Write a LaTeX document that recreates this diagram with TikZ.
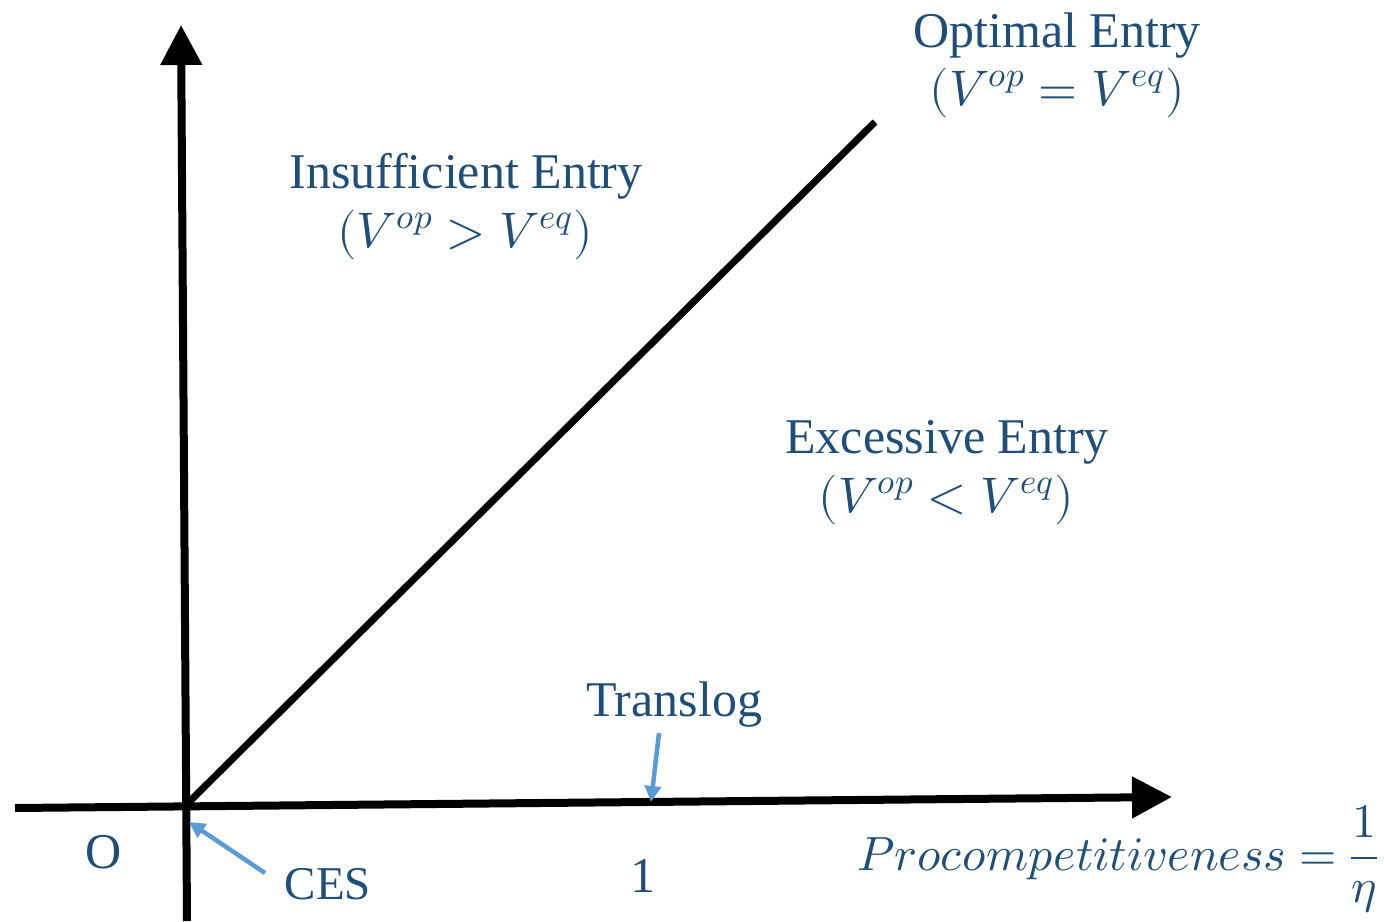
\documentclass[tikz,border=0pt]{standalone}
\usepackage{fontspec}
\usepackage{unicode-math}
\setmainfont{Liberation Serif}
\usetikzlibrary{arrows.meta}
\definecolor{labelblue}{HTML}{1F4E79}
\definecolor{pointerblue}{HTML}{5B9BD5}
\begin{document}
\begin{tikzpicture}[x=1pt,y=-1pt,
  axis/.style={line width=8pt,-{Triangle[length=40pt,width=40pt]}},
  diag/.style={line width=7pt},
  pointer/.style={draw=pointerblue,line width=4.5pt,-{Triangle[length=16pt,width=16pt]}},
  lbl/.style={text=labelblue,inner sep=0pt,anchor=base,font=\fontsize{50}{60}\selectfont}]
\useasboundingbox (0,0) rectangle (1384,921);
% axes and the boundary line
\coordinate (xs) at (15,808);
\coordinate (xe) at (1172,797);
\coordinate (ys) at (187,921);
\coordinate (ye) at (181,25);
\coordinate (o) at (186,805);
\coordinate (d) at (875,122);
\draw[axis] (xs) -- (xe);
\draw[axis] (ys) -- (ye);
\draw[diag] (o) -- (d);
% region labels
\node[lbl] (opt) at (1057,47) {Optimal Entry};
\node[lbl] (optm) at (1057,105) {$(V^{op}=V^{eq})$};
\node[lbl] (ins) at (466,188) {Insufficient Entry};
\node[lbl] (insm) at (465,247) {$(V^{op}>V^{eq})$};
\node[lbl] (exc) at (947,453) {Excessive Entry};
\node[lbl] (excm) at (946,512) {$(V^{op}<V^{eq})$};
% axis labels
\node[lbl] (orig) at (104,868) {O};
\node[lbl,font=\fontsize{47}{56}\selectfont] (ces) at (328,899) {CES};
\node[lbl] (one) at (643,892) {1};
\node[lbl] (trl) at (674,716) {Translog};
\node[lbl,anchor=base east,font=\fontsize{48}{56}\selectfont] (proc) at (1378,870) {$\displaystyle Procompetitiveness=\frac{1}{\eta}$};
% pointers
\coordinate (cesq) at (265,873);
\coordinate (cesp) at (189,822);
\coordinate (trlq) at (659,733);
\coordinate (trlp) at (651,802);
\draw[pointer] (cesq) -- (cesp);
\draw[pointer] (trlq) -- (trlp);
\end{tikzpicture}
\end{document}
